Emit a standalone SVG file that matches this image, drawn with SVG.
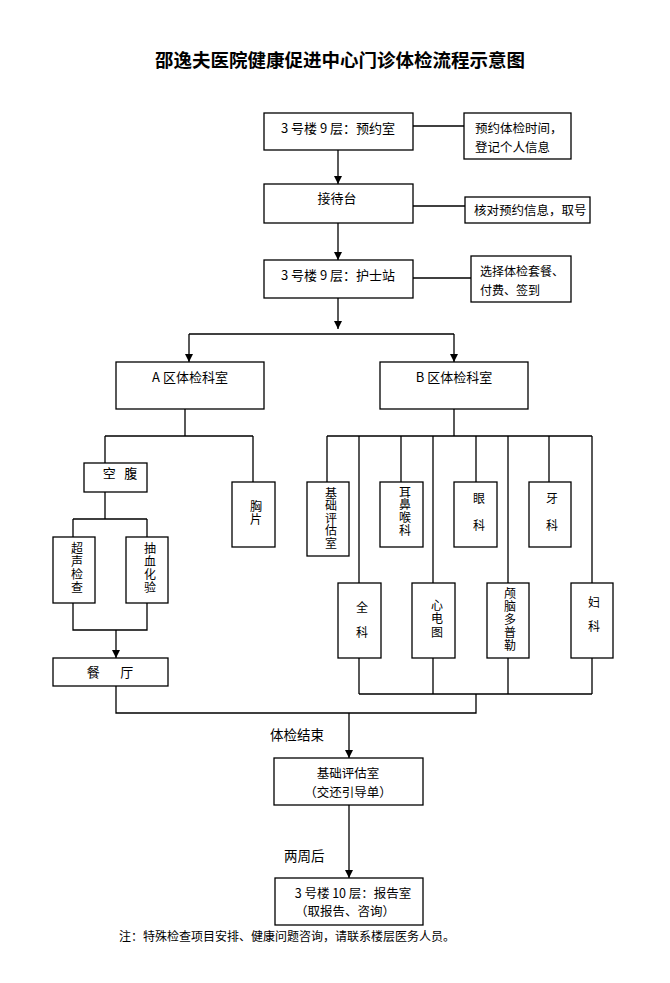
<svg xmlns="http://www.w3.org/2000/svg" width="670" height="983" viewBox="0 0 670 983">
<defs>
<marker id="arr" markerUnits="userSpaceOnUse" markerWidth="8" markerHeight="9" refX="8" refY="4" orient="auto" viewBox="0 0 8 8">
<path d="M0,0 L8,4 L0,8 z" fill="#000"/>
</marker>
<style>
.b{fill:#fff;stroke:#000;stroke-width:1.3}
.t{font-family:"Noto Sans CJK SC","Liberation Serif",serif;font-size:13px;fill:#000}
.s{font-family:"Noto Sans CJK SC","Liberation Serif",serif;font-size:12.5px;fill:#000}
.v{font-family:"Noto Sans CJK SC","Liberation Serif",serif;font-size:12px;fill:#000;writing-mode:vertical-rl;text-anchor:start}
.c{text-anchor:middle}
.e{fill:none;stroke:#000;stroke-width:1.3}
.a{marker-end:url(#arr)}
</style>
</defs>
<rect width="670" height="983" fill="#fff"/>
<text x="340" y="67" class="c" style="font-family:'Noto Sans CJK SC',sans-serif;font-size:18.5px;font-weight:bold">邵逸夫医院健康促进中心门诊体检流程示意图</text>

<g id="connectors">
<path class="e a" d="M338,150 V184"/>
<path class="e" d="M413,126 H464"/>
<path class="e a" d="M338,223 V260"/>
<path class="e" d="M413,206 H465"/>
<path class="e" d="M413,278 H471"/>
<path class="e a" d="M338,298 V329"/>
<path class="e" d="M189,334 H454"/>
<path class="e a" d="M189,334 V362"/>
<path class="e a" d="M454,334 V362"/>
<path class="e" d="M185,409 V436 M105,436 H253 M105,436 V463 M253,436 V482"/>
<path class="e" d="M105,492 V519 M73,519 H147 M73,519 V537 M147,519 V537"/>
<path class="e" d="M73,603 V630 H147 V603"/>
<path class="e a" d="M116,630 V658"/>
<path class="e" d="M116,686 V713 H476 V694"/>
<path class="e" d="M454,409 V436 M327,436 H592 M327,436 V482 M359,436 V583 M401,436 V482 M433,436 V583 M476,436 V482 M508,436 V583 M549,436 V482 M592,436 V583"/>
<path class="e" d="M359,658 V694 M433,658 V694 M508,658 V694 M592,658 V694 M359,694 H592"/>
<path class="e a" d="M349,713 V758"/>
<path class="e a" d="M349,805 V878"/>
</g>

<g id="n-yuyue"><rect class="b" x="264" y="113" width="149" height="37"/><text class="t c" x="338" y="133">3 号楼 9 层：预约室</text></g>
<g id="n-yuyue-note"><rect class="b" x="464" y="113" width="107" height="46"/><text class="s" x="475" y="133">预约体检时间，</text><text class="s" x="475" y="152">登记个人信息</text></g>
<g id="n-jiedai"><rect class="b" x="264" y="184" width="149" height="39"/><text class="t c" x="337" y="203">接待台</text></g>
<g id="n-jiedai-note"><rect class="b" x="465" y="197" width="125" height="26"/><text class="s" x="474" y="215">核对预约信息，取号</text></g>
<g id="n-hushi"><rect class="b" x="264" y="260" width="149" height="38"/><text class="t c" x="338" y="280">3 号楼 9 层：护士站</text></g>
<g id="n-hushi-note"><rect class="b" x="471" y="256" width="100" height="46"/><text class="s" x="480" y="276" style="font-size:12px">选择体检套餐、</text><text class="s" x="480" y="294.5" style="font-size:12px">付费、签到</text></g>

<g id="n-a"><rect class="b" x="116" y="362" width="148" height="47"/><text class="t c" x="190" y="382">A 区体检科室</text></g>
<g id="n-b"><rect class="b" x="380" y="362" width="148" height="47"/><text class="t c" x="454" y="382">B 区体检科室</text></g>

<g id="n-kongfu"><rect class="b" x="84" y="463" width="63" height="29"/><text class="t c" x="120" y="478" xml:space="preserve">空   腹</text></g>
<g id="n-xiongpian"><rect class="b" x="232" y="482" width="43" height="65"/><text class="v" x="256" y="500" letter-spacing="1">胸片</text></g>
<g id="n-chaosheng"><rect class="b" x="53" y="537" width="42" height="66"/><text class="v" x="77" y="542" letter-spacing="1">超声检查</text></g>
<g id="n-chouxue"><rect class="b" x="126" y="537" width="42" height="66"/><text class="v" x="150" y="542" letter-spacing="1">抽血化验</text></g>
<g id="n-canting"><rect class="b" x="53" y="658" width="115" height="28"/><text class="t c" x="110" y="677" xml:space="preserve">餐       厅</text></g>

<g id="n-jichu"><rect class="b" x="307" y="482" width="42" height="74"/><text class="v" x="331" y="487" letter-spacing="0.5">基础评估室</text></g>
<g id="n-erbi"><rect class="b" x="380" y="482" width="43" height="65"/><text class="v" x="405" y="486" letter-spacing="0.7">耳鼻喉科</text></g>
<g id="n-yan"><rect class="b" x="454" y="482" width="43" height="65"/><text class="v" x="479" y="492" letter-spacing="15">眼科</text></g>
<g id="n-ya"><rect class="b" x="529" y="482" width="42" height="65"/><text class="v" x="552" y="492" letter-spacing="15">牙科</text></g>
<g id="n-quan"><rect class="b" x="338" y="583" width="43" height="75"/><text class="v" x="362" y="601" letter-spacing="13">全科</text></g>
<g id="n-xindian"><rect class="b" x="412" y="583" width="43" height="75"/><text class="v" x="437" y="599" letter-spacing="1.5">心电图</text></g>
<g id="n-lunao"><rect class="b" x="487" y="583" width="42" height="75"/><text class="v" x="510" y="587" letter-spacing="1">颅脑多普勒</text></g>
<g id="n-fu"><rect class="b" x="571" y="583" width="42" height="75"/><text class="v" x="594" y="596" letter-spacing="12">妇科</text></g>

<text class="t" x="270" y="740" style="font-size:13.5px">体检结束</text>
<g id="n-pinggu"><rect class="b" x="274" y="758" width="149" height="47"/><text class="s c" x="348" y="778">基础评估室</text><text class="s c" x="348" y="797">（交还引导单）</text></g>
<text class="t" x="284" y="861" style="font-size:13.5px">两周后</text>
<g id="n-baogao"><rect class="b" x="275" y="878" width="148" height="47"/><text class="s c" x="353" y="898">3 号楼 10 层：报告室</text><text class="s c" x="345" y="916">（取报告、咨询）</text></g>
<text x="119" y="941" style="font-family:'Noto Sans CJK SC',serif;font-size:12px">注：特殊检查项目安排、健康问题咨询，请联系楼层医务人员。</text>
</svg>
